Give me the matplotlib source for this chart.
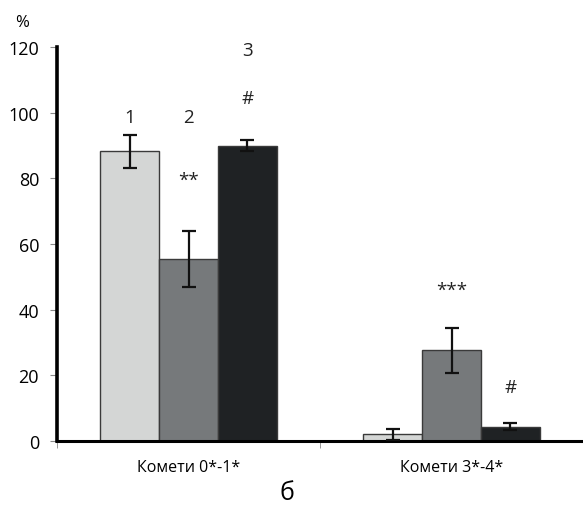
import numpy as np
import matplotlib.pyplot as plt

plt.rcParams['font.family'] = ['Open Sans', 'DejaVu Sans']

categories = ['Комети 0*-1*', 'Комети 3*-4*']
series_values = [[88.2, 2.1], [55.5, 27.6], [90.0, 4.3]]
series_errors = [[5.0, 1.7], [8.5, 6.9], [1.7, 1.1]]
series_colors = ['#d4d6d5', '#76797b', '#1f2224']
yticks = [0, 20, 40, 60, 80, 100, 120]

# annotations: (series index, category index, text, y value)
notes = [(0, 0, '1', 98.8), (1, 0, '2', 98.8), (2, 0, '3', 119),
         (2, 0, '#', 104.5), (1, 0, '**', 79.5),
         (1, 1, '***', 46), (2, 1, '#', 16.5)]

fig = plt.figure(figsize=(5.83, 5.06), dpi=100)
ax = fig.add_axes([0.098, 0.1265, 0.902, 0.7785])

width = 0.224
x = np.arange(len(categories))
for i in range(len(series_values)):
    ax.bar(x + (i - 1) * width, series_values[i], width, color=series_colors[i],
           edgecolor='#3a3a3a', linewidth=1.0, zorder=2)
    ax.errorbar(x + (i - 1) * width, series_values[i], yerr=series_errors[i], fmt='none',
                ecolor='#111111', elinewidth=1.6, capsize=5, capthick=1.6, zorder=3)

for si, ci, txt, yv in notes:
    fs = 13.5 if txt in ('1', '2', '3') else 13.5
    ax.text(ci + (si - 1) * width, yv, txt, ha='center', va='center', fontsize=fs, color='#222222')

ax.set_xlim(-0.5, 1.5)
ax.set_ylim(0, 120)
ax.set_yticks(yticks)
ax.set_yticklabels([str(v) for v in yticks], fontsize=13)
ax.set_xticks(x)
ax.set_xticklabels(categories, fontsize=11.5)
ax.tick_params(axis='x', length=0, pad=13)
ax.set_xticks([-0.5, 0.5, 1.5], minor=True)
ax.tick_params(axis='x', which='minor', length=5, color='#888888')
ax.tick_params(axis='y', length=5, color='#888888', pad=8)

for s in ['top', 'right']:
    ax.spines[s].set_visible(False)
ax.spines['left'].set_linewidth(2.6)
ax.spines['bottom'].set_linewidth(2.2)

fig.text(0.038, 0.955, '%', fontsize=12, ha='center', va='center')
fig.text(0.493, 0.025, 'б', fontsize=18, ha='center', va='center')

fig.savefig('out.png', dpi=100)
